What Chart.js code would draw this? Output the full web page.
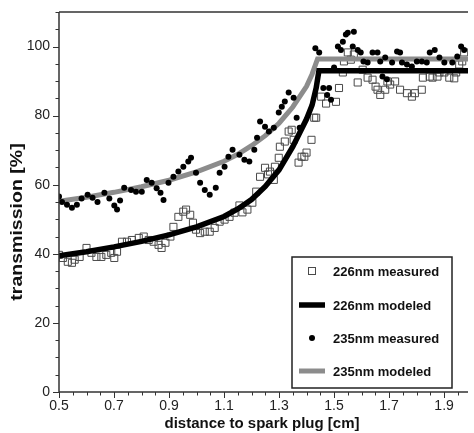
<!DOCTYPE html>
<html>
<head>
<meta charset="utf-8">
<script src="https://cdn.jsdelivr.net/npm/chart.js@4/dist/chart.umd.min.js"></script>
<style>
body { margin: 0; background: #fff; }
#wrap { width: 474px; height: 433px; }
</style>
</head>
<body>
<div id="wrap"><canvas id="chart" width="474" height="433"></canvas></div>
<script>
// axis ticks
var xTicks = [0.5, 0.7, 0.9, 1.1, 1.3, 1.5, 1.7, 1.9];
var yTicks = [0, 20, 40, 60, 80, 100];
var seriesNames = ["226nm measured", "226nm modeled", "235nm measured", "235nm modeled"];

// 226nm measured (open squares)
var meas226x = [0.50, 0.514, 0.532, 0.547, 0.557, 0.575, 0.600, 0.618, 0.636, 0.654, 0.672, 0.690, 0.701, 0.711,
	0.729, 0.747, 0.765, 0.790, 0.808, 0.826, 0.844, 0.862, 0.873, 0.887, 0.905, 0.916, 0.934, 0.952, 0.962,
	0.977, 0.987, 0.998, 1.013, 1.030, 1.048, 1.066, 1.084, 1.102, 1.120, 1.138, 1.156, 1.167, 1.185, 1.203,
	1.217, 1.231, 1.249, 1.260, 1.267, 1.281, 1.285, 1.299, 1.303, 1.321, 1.335, 1.346, 1.353, 1.371, 1.382,
	1.392, 1.400, 1.418, 1.428, 1.435, 1.453, 1.471, 1.507, 1.518, 1.532, 1.536, 1.550, 1.561, 1.572, 1.586,
	1.604, 1.622, 1.640, 1.651, 1.658, 1.668, 1.686, 1.694, 1.704, 1.722, 1.740, 1.765, 1.783, 1.794, 1.819,
	1.823, 1.848, 1.858, 1.876, 1.883, 1.901, 1.919, 1.937, 1.944, 1.955, 1.966, 1.973];
var meas226y = [39.7, 38.8, 37.7, 37.4, 38.3, 39.1, 41.7, 40.3, 39.1, 39.1, 39.7, 40.3, 38.8, 40.6,
	43.5, 43.5, 44.0, 44.6, 45.0, 44.0, 43.5, 42.6, 41.7, 43.2, 45.0, 47.8, 50.7, 52.2, 52.8,
	51.3, 49.0, 47.0, 46.0, 46.4, 46.4, 47.5, 49.3, 49.9, 50.7, 51.9, 54.0, 52.0, 52.8, 54.8,
	58.0, 62.3, 64.9, 63.0, 63.8, 61.4, 65.2, 67.8, 71.0, 72.5, 75.4, 75.9, 73.0, 66.4, 68.1,
	68.1, 69.3, 73.0, 79.4, 79.4, 85.5, 83.5, 84.0, 88.0, 92.5, 95.7, 98.3, 96.2, 97.7, 89.6,
	93.3, 91.0, 90.4, 88.4, 87.5, 86.0, 87.5, 89.9, 89.0, 89.9, 87.5, 86.5, 85.5, 86.5, 87.5,
	91.0, 91.3, 91.0, 91.3, 92.5, 92.5, 91.0, 90.8, 92.5, 94.8, 95.7, 98.3];

// 226nm modeled (black line)
var mod226x = [0.5, 0.6, 0.7, 0.8, 0.9, 1.0, 1.1, 1.15, 1.2, 1.25, 1.3, 1.35, 1.4, 1.42, 1.435, 1.445, 2.0];
var mod226y = [39.4, 40.6, 42.0, 43.6, 45.5, 47.8, 50.8, 53.0, 55.7, 59.5, 64.3, 71.0, 79.0, 83.0, 88.0, 93.0, 93.0];

// 235nm measured (filled dots)
var meas235x = [0.50, 0.511, 0.529, 0.547, 0.565, 0.582, 0.604, 0.622, 0.640, 0.665, 0.683, 0.701, 0.711, 0.722,
	0.737, 0.762, 0.780, 0.801, 0.819, 0.837, 0.855, 0.869, 0.880, 0.898, 0.916, 0.934, 0.952, 0.970, 0.980,
	0.998, 1.013, 1.030, 1.048, 1.070, 1.084, 1.102, 1.116, 1.131, 1.156, 1.174, 1.192, 1.210, 1.220, 1.231,
	1.249, 1.263, 1.281, 1.299, 1.310, 1.321, 1.335, 1.353, 1.364, 1.375, 1.432, 1.446, 1.461, 1.475, 1.482,
	1.489, 1.500, 1.514, 1.525, 1.532, 1.543, 1.550, 1.568, 1.572, 1.586, 1.597, 1.607, 1.622, 1.640, 1.658,
	1.668, 1.676, 1.686, 1.692, 1.711, 1.729, 1.740, 1.747, 1.765, 1.783, 1.801, 1.819, 1.837, 1.848, 1.866,
	1.883, 1.901, 1.930, 1.948, 1.962, 1.973];
var meas235y = [56.6, 55.0, 54.2, 53.3, 54.2, 56.0, 57.1, 56.2, 55.0, 57.7, 56.0, 54.0, 52.8, 55.4,
	59.1, 58.5, 58.0, 58.0, 61.4, 60.6, 59.0, 57.7, 55.6, 60.6, 62.3, 63.8, 65.2, 66.7, 67.8,
	63.5, 60.6, 58.5, 57.1, 59.1, 63.5, 65.2, 68.1, 70.1, 68.7, 67.2, 66.7, 70.1, 73.6, 78.3,
	76.8, 75.4, 76.5, 80.9, 82.6, 84.1, 86.7, 85.2, 79.4, 76.5, 99.5, 98.3, 88.0, 86.0, 88.0,
	84.6, 93.9, 100.0, 99.0, 101.4, 103.5, 104.0, 100.0, 104.3, 99.0, 98.3, 95.7, 95.4, 98.3, 98.3,
	95.7, 91.3, 96.8, 90.5, 95.4, 98.6, 98.3, 95.4, 94.8, 94.2, 95.7, 95.7, 95.4, 98.3, 99.0,
	96.8, 95.4, 95.4, 97.1, 100.0, 99.0];

// 235nm modeled (gray line)
var mod235x = [0.5, 0.6, 0.7, 0.8, 0.9, 1.0, 1.1, 1.15, 1.2, 1.25, 1.3, 1.35, 1.4, 1.42, 1.44, 2.0];
var mod235y = [55.2, 56.4, 57.8, 59.4, 61.3, 63.7, 66.8, 68.8, 71.3, 74.2, 77.8, 82.5, 88.5, 92.0, 96.4, 96.4];

function pairs(xs, ys) {
	var out = [];
	for (var i = 0; i < xs.length; i++) {
		out.push({x: xs[i], y: ys[i]});
	}
	return out;
}

var fontFamily = "'Liberation Sans', Arial, Helvetica, sans-serif";

// axes frame, minor ticks, titles and the boxed legend
var framePlugin = {
	id: "frame",
	afterDraw: function(chart) {
		var ctx = chart.ctx;
		var a = chart.chartArea;
		var xs = chart.scales.x, ys = chart.scales.y;
		ctx.save();
		ctx.strokeStyle = "#333";
		ctx.lineWidth = 1.5;
		ctx.beginPath();
		ctx.moveTo(a.left, a.top); ctx.lineTo(a.right, a.top);
		ctx.moveTo(a.left, a.top); ctx.lineTo(a.left, a.bottom); ctx.lineTo(a.right, a.bottom);
		ctx.stroke();

		ctx.lineWidth = 1;
		ctx.beginPath();
		for (var i = 0; i <= 22; i++) {
			var y = Math.round(ys.getPixelForValue(i * 5)) + 0.5;
			var len = (i % 4 == 0) ? 6 : 3.5;
			ctx.moveTo(a.left - len, y); ctx.lineTo(a.left, y);
		}
		for (var j = 0; j <= 30; j++) {
			var v = 0.5 + j * 0.05;
			if (v > xs.max) break;
			var x = Math.round(xs.getPixelForValue(v)) + 0.5;
			var l = (j % 4 == 0) ? 6 : 3.5;
			ctx.moveTo(x, a.bottom); ctx.lineTo(x, a.bottom + l);
		}
		ctx.stroke();

		// axis titles
		ctx.fillStyle = "#111";
		ctx.font = "bold 15px " + fontFamily;
		ctx.textAlign = "center";
		ctx.textBaseline = "alphabetic";
		ctx.fillText("distance to spark plug [cm]", 262, 428);
		ctx.save();
		ctx.translate(22, 222);
		ctx.rotate(-Math.PI / 2);
		ctx.scale(1.22, 1);
		ctx.font = "bold 16px " + fontFamily;
		ctx.fillText("transmission [%]", 0, 0);
		ctx.restore();

		// legend
		var bx = 292, by = 257, bw = 160, bh = 131;
		ctx.fillStyle = "#fff";
		ctx.fillRect(bx, by, bw, bh);
		ctx.strokeStyle = "#222";
		ctx.lineWidth = 1.5;
		ctx.strokeRect(bx, by, bw, bh);
		var rows = [271, 305, 338, 371];
		var sets = chart.data.datasets;
		ctx.font = "bold 13px " + fontFamily;
		ctx.textAlign = "left";
		ctx.textBaseline = "middle";
		for (var k = 0; k < sets.length; k++) {
			var ds = sets[k];
			var cy = rows[k];
			if (ds.showLine) {
				ctx.strokeStyle = ds.borderColor;
				ctx.lineWidth = ds.borderWidth;
				ctx.beginPath();
				ctx.moveTo(299, cy); ctx.lineTo(325, cy);
				ctx.stroke();
			} else if (ds.pointStyle == "rect") {
				ctx.strokeStyle = ds.borderColor;
				ctx.lineWidth = 1;
				ctx.strokeRect(308.5, cy - 3.5, 7, 7);
			} else {
				ctx.fillStyle = ds.backgroundColor;
				ctx.beginPath();
				ctx.arc(312, cy, 3, 0, Math.PI * 2);
				ctx.fill();
			}
			ctx.fillStyle = "#111";
			ctx.fillText(ds.label, 333, cy + 1);
		}
		ctx.restore();
	}
};

var ctx = document.getElementById("chart").getContext("2d");
var chart = new Chart(ctx, {
	type: "scatter",
	data: {
		datasets: [
			{
				label: seriesNames[0],
				data: pairs(meas226x, meas226y),
				pointStyle: "rect",
				pointRadius: 5,
				borderColor: "#4a4a4a",
				backgroundColor: "rgba(0,0,0,0)",
				borderWidth: 1,
				showLine: false,
				order: 4
			},
			{
				label: seriesNames[1],
				data: pairs(mod226x, mod226y),
				showLine: true,
				pointRadius: 0,
				borderColor: "#000",
				borderWidth: 5.5,
				order: 2
			},
			{
				label: seriesNames[2],
				data: pairs(meas235x, meas235y),
				pointStyle: "circle",
				pointRadius: 3,
				borderWidth: 0,
				backgroundColor: "#000",
				borderColor: "#000",
				showLine: false,
				order: 1
			},
			{
				label: seriesNames[3],
				data: pairs(mod235x, mod235y),
				showLine: true,
				pointRadius: 0,
				borderColor: "#8c8c8c",
				borderWidth: 5,
				order: 3
			}
		]
	},
	options: {
		responsive: false,
		animation: false,
		devicePixelRatio: 1,
		layout: { padding: { top: 12, left: 0, right: 0, bottom: 0 } },
		plugins: {
			legend: { display: false },
			tooltip: { enabled: false }
		},
		scales: {
			x: {
				type: "linear",
				min: 0.5,
				max: 1.987,
				grid: { display: false, drawTicks: false },
				border: { display: false },
				afterBuildTicks: function(s) {
					s.ticks = xTicks.map(function(v) { return {value: v}; });
				},
				afterFit: function(s) {
					s.height = 41;
					s.paddingLeft = 0;
					s.paddingRight = 0;
				},
				ticks: {
					padding: 6,
					maxRotation: 0,
					color: "#222",
					font: { family: fontFamily, size: 14 },
					callback: function(v) { return Number(v).toFixed(1); }
				}
			},
			y: {
				type: "linear",
				min: 0,
				max: 110,
				grid: { display: false, drawTicks: false },
				border: { display: false },
				afterBuildTicks: function(s) {
					s.ticks = yTicks.map(function(v) { return {value: v}; });
				},
				afterFit: function(s) {
					s.width = 59;
					s.paddingTop = 0;
					s.paddingBottom = 0;
				},
				ticks: {
					padding: 9,
					color: "#222",
					font: { family: fontFamily, size: 14 },
					callback: function(v) { return String(v); }
				}
			}
		}
	},
	plugins: [framePlugin]
});
</script>
</body>
</html>
